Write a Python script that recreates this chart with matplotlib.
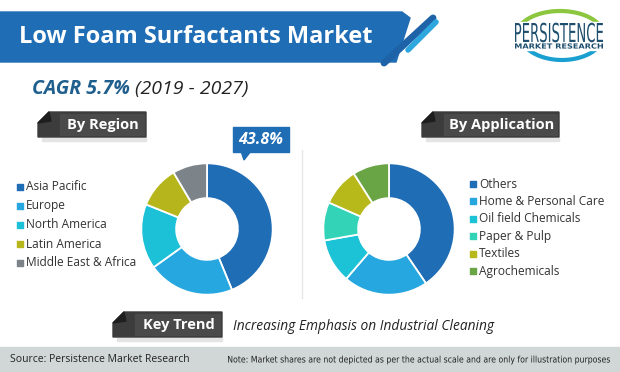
import matplotlib
matplotlib.use("Agg")
import numpy as np
import matplotlib.pyplot as plt
from matplotlib.patches import Polygon, Rectangle, PathPatch
from matplotlib.textpath import TextPath
from matplotlib.font_manager import FontProperties
from matplotlib.transforms import Affine2D

# 数据
region_labels = ["Asia Pacific", "Europe", "North America", "Latin America", "Middle East & Africa"]
region_share = [43.8, 21.3, 16.0, 10.4, 8.5]
region_colors = ["#1f6db5", "#27a7df", "#1cc1d8", "#b6b61c", "#7d8489"]

app_labels = ["Others", "Home & Personal Care", "Oil field Chemicals", "Paper & Pulp",
              "Textiles", "Agrochemicals"]
app_share = [40.5, 20.8, 10.9, 9.4, 9.4, 9.0]
app_colors = ["#1f6db5", "#27a7df", "#1cc3d6", "#33d3b8", "#b7b81a", "#69a545"]

title = "Low Foam Surfactants Market"
cagr = "CAGR 5.7%"
period = "(2019 - 2027)"
highlight = "43.8%"
key_trend = "Increasing Emphasis on Industrial Cleaning"
source = "Source: Persistence Market Research"
note = "Note: Market shares are not depicted as per the actual scale and are only for illustration purposes"

W, H = 620, 372
fig = plt.figure(figsize=(6.2, 3.72), dpi=100)
fig.patch.set_facecolor("white")

# 背景坐标轴（像素坐标）
ax0 = fig.add_axes([0, 0, 1, 1])
ax0.set_xlim(0, W)
ax0.set_ylim(H, 0)
ax0.axis("off")

FONT = ["Open Sans", "DejaVu Sans"]


def squeezed(x, y, s, size_px, width_px, color, weight="normal"):
    """窄体文字：按宽度横向压缩"""
    tp = TextPath((0, 0), s, size=size_px, prop=FontProperties(family="DejaVu Sans", weight=weight))
    bb = tp.get_extents()
    sx = width_px / bb.width
    tr = Affine2D().translate(-bb.x0, -(bb.y0 + bb.y1) / 2).scale(sx, -1).translate(x, y)
    ax0.add_patch(PathPatch(tr.transform_path(tp), color=color, lw=0, zorder=4))


# 标题横幅
ax0.add_patch(Polygon([(0, 12), (402, 12), (410, 18), (396, 62), (0, 62)],
                      closed=True, color="#1f6db5", zorder=1))
ax0.plot([433, 384], [18, 63], color="#1e63a8", lw=5, solid_capstyle="round", zorder=2)
ax0.plot([436, 408], [22, 50], color="#2ea7df", lw=4, solid_capstyle="round", zorder=2)
ax0.text(19, 37, title, color="white", fontsize=17, fontweight="bold",
         family=FONT, va="center", ha="left", zorder=3)

# Logo
t = np.radians(np.linspace(25, 165, 40))
ax0.plot(560 + 44 * np.cos(t), 36 - 25 * np.sin(t), color="#8cc63f", lw=3, solid_capstyle="round")
t = np.radians(np.linspace(200, 345, 40))
ax0.plot(562 + 42 * np.cos(t), 34 - 26 * np.sin(t), color="#1aa0d0", lw=3, solid_capstyle="round")
ax0.add_patch(Rectangle((512, 22), 94, 28, color="white", zorder=3))
squeezed(515, 32.5, "PERSISTENCE", 26, 88, "#1d4e6e")
squeezed(515, 46, "MARKET RESEARCH", 7, 88, "#1d4e6e", weight="bold")

# CAGR
t1 = ax0.text(32, 89, cagr + " ", color="#1f5f8e", fontsize=14, fontweight="bold",
              style="italic", family=FONT, va="center", ha="left")
ax0.annotate(period, xy=(1, 0.5), xycoords=t1, color="#222222", fontsize=14,
             style="italic", family=FONT, va="center", ha="left")


def tag(x0, y0, x1, y1, text, fs=10.5):
    ax0.add_patch(Rectangle((x0 + 4, y1), x1 - x0 - 4, 4, color="#e4e4e4", zorder=1))
    ax0.add_patch(Polygon([(x0, y0 + 11), (x0 + 11, y0), (x1, y0), (x1, y1), (x0, y1)],
                          closed=True, color="#3c3c3c", zorder=2))
    ax0.add_patch(Polygon([(x0, y0 + 11), (x0 + 11, y0), (x0 + 13, y0 + 9)],
                          closed=True, color="#1e1e1e", zorder=3))
    ax0.add_patch(Rectangle((x0 + 22, y0 + 2), x1 - x0 - 24, y1 - y0 - 4,
                            color="#4a4a4a", zorder=2))
    ax0.text((x0 + 22 + x1) / 2, (y0 + y1) / 2 + 0.5, text, color="white", fontsize=fs,
             fontweight="bold", family=FONT, ha="center", va="center", zorder=4)


tag(38, 112, 146, 137, "By Region")
tag(422, 112, 559, 137, "By Application")
tag(113, 312, 222, 337, "Key Trend")

ax0.text(233, 327, key_trend, color="#222222", fontsize=9.9, style="italic",
         family=FONT, ha="left", va="center")

# 分隔线
ax0.plot([302, 302], [150, 298], color="#e6e6e6", lw=1)


def donut(cx, cy, r, values, colors):
    ax = fig.add_axes([(cx - r) / W, 1 - (cy + r) / H, 2 * r / W, 2 * r / H])
    ax.pie(values, colors=colors, startangle=90, counterclock=False, radius=1,
           wedgeprops=dict(width=0.53, edgecolor="white", linewidth=1.3))
    ax.set_xlim(-1.02, 1.02)
    ax.set_ylim(-1.02, 1.02)
    return ax


donut(207, 229, 67, region_share, region_colors)
donut(389, 229, 67, app_share, app_colors)


def legend(x, y0, dy, labels, colors):
    for i, (lab, col) in enumerate(zip(labels, colors)):
        y = y0 + i * dy
        ax0.scatter([x], [y], marker="s", s=14, color=col, zorder=3)
        ax0.text(x + 6, y, lab, color="#333333", fontsize=8.6, family=FONT,
                 ha="left", va="center")


legend(20, 187, 19, region_labels, region_colors)
legend(473, 184, 17.4, app_labels, app_colors)

# 43.8% 标注
ax0.add_patch(Rectangle((233, 127), 56, 25, color="#1f6db5", zorder=5))
ax0.add_patch(Polygon([(241, 151), (251, 151), (244, 160)], closed=True,
                      color="#1f6db5", zorder=5))
ax0.text(261, 139.5, highlight, color="white", fontsize=11.5, fontweight="bold",
         style="italic", family=FONT, ha="center", va="center", zorder=6)

# 页脚
ax0.add_patch(Rectangle((0, 347), W, H - 347, color="#d0d7d6", zorder=1))
ax0.text(10, 360, source, color="#222222", fontsize=7.5, family=FONT,
         ha="left", va="center", zorder=2)
squeezed(228, 360, note, 9, 382, "#222222")

fig.savefig("out.png", dpi=100, facecolor="white")
